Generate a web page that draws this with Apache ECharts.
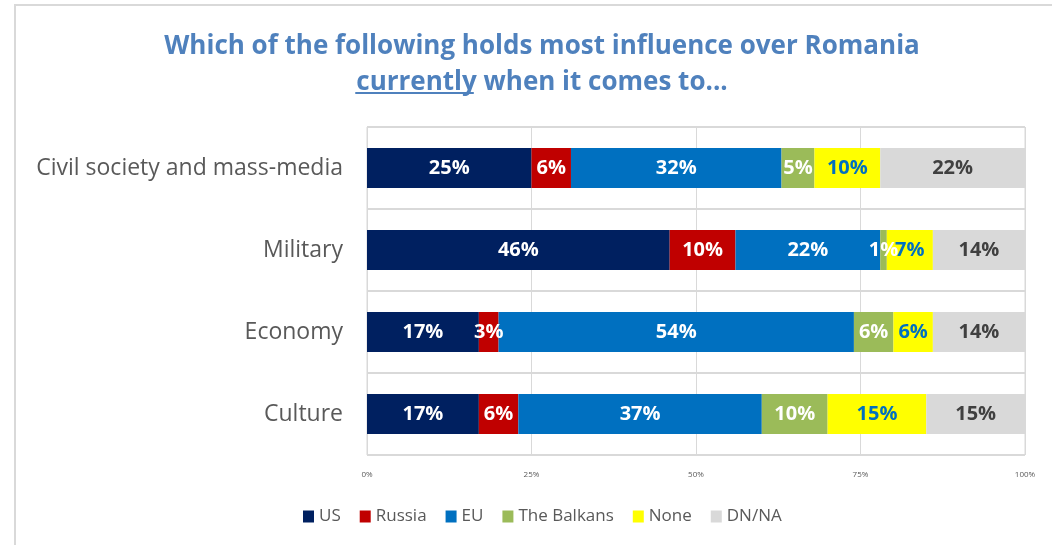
<!DOCTYPE html>
<html>
<head>
<meta charset="utf-8">
<script src="https://cdn.jsdelivr.net/npm/echarts@6/dist/echarts.min.js"></script>
<style>
  html, body { margin: 0; padding: 0; background: #fff; }
  #chart { width: 1052px; height: 545px; }
</style>
</head>
<body>
<div id="chart"></div>
<script>
// data (percent of respondents)
const categories = ['Civil society and mass-media', 'Military', 'Economy', 'Culture']
const seriesNames = ['US', 'Russia', 'EU', 'The Balkans', 'None', 'DN/NA']
const usVals = [25, 46, 17, 17]
const russiaVals = [6, 10, 3, 6]
const euVals = [32, 22, 54, 37]
const balkansVals = [5, 1, 6, 10]
const noneVals = [10, 7, 6, 15]
const dnnaVals = [22, 14, 14, 15]
const xTicks = [0, 25, 50, 75, 100]

const colors = ['#002060', '#C00000', '#0070C0', '#9BBB59', '#FFFF00', '#D9D9D9']
const labelColors = ['#fff', '#fff', '#fff', '#fff', '#0070C0', '#404040']
const values = [usVals, russiaVals, euVals, balkansVals, noneVals, dnnaVals]

const titleFont = 'bold 26px "Open Sans"'
const line2 = 'currently when it comes to...'
const titleX = 537

// measure the underlined word so the rule sits under it
const ctx = document.createElement('canvas').getContext('2d')
ctx.font = titleFont
const fullW = ctx.measureText(line2).width
const wordW = ctx.measureText('currently').width

const chart = echarts.init(document.getElementById('chart'))
chart.setOption({
  animation: false,
  color: colors,
  title: {
    text: 'Which of the following holds most influence over Romania\n' + line2,
    left: titleX,
    textAlign: 'center',
    top: 24,
    textStyle: { fontFamily: 'Open Sans', fontWeight: 'bold', fontSize: 26, color: '#4F81BD', lineHeight: 36 }
  },
  graphic: [
    {
      type: 'line',
      shape: { x1: titleX - fullW / 2 + 4, y1: 93, x2: titleX - fullW / 2 + wordW + 2, y2: 93 },
      style: { stroke: '#4F81BD', lineWidth: 2 }
    },
    { type: 'line', shape: { x1: 14, y1: 5, x2: 1052, y2: 5 }, style: { stroke: '#D9D9D9', lineWidth: 2 } },
    { type: 'line', shape: { x1: 15, y1: 5, x2: 15, y2: 545 }, style: { stroke: '#D9D9D9', lineWidth: 2 } }
  ],
  legend: {
    left: 298, top: 503,
    itemWidth: 11, itemHeight: 12, itemGap: 19,
    icon: 'rect',
    textStyle: { fontFamily: 'Open Sans', fontSize: 17, color: '#595959' },
    data: seriesNames
  },
  grid: { left: 367, right: 27, top: 127, bottom: 90, show: true, borderColor: '#D9D9D9', borderWidth: 1 },
  xAxis: {
    type: 'value', min: 0, max: 100, interval: 25,
    axisLine: { show: false }, axisTick: { show: false },
    splitLine: { lineStyle: { color: '#D9D9D9' } },
    axisLabel: {
      formatter: v => xTicks.includes(v) ? v + '%' : '',
      fontFamily: 'Open Sans', fontSize: 8, color: '#595959', margin: 16
    }
  },
  yAxis: {
    type: 'category', inverse: true, data: categories,
    axisLine: { show: false }, axisTick: { show: false },
    splitLine: { show: true, lineStyle: { color: '#D9D9D9', width: 2 } },
    axisLabel: { fontFamily: 'Open Sans', fontSize: 23, color: '#595959', margin: 24 }
  },
  series: seriesNames.map((name, i) => ({
    name, type: 'bar', stack: 'total', barWidth: 40,
    data: values[i],
    label: {
      show: true, position: 'inside', formatter: '{c}%',
      fontFamily: 'Open Sans', fontWeight: 'bold', fontSize: 20, color: labelColors[i]
    }
  }))
})
</script>
</body>
</html>
